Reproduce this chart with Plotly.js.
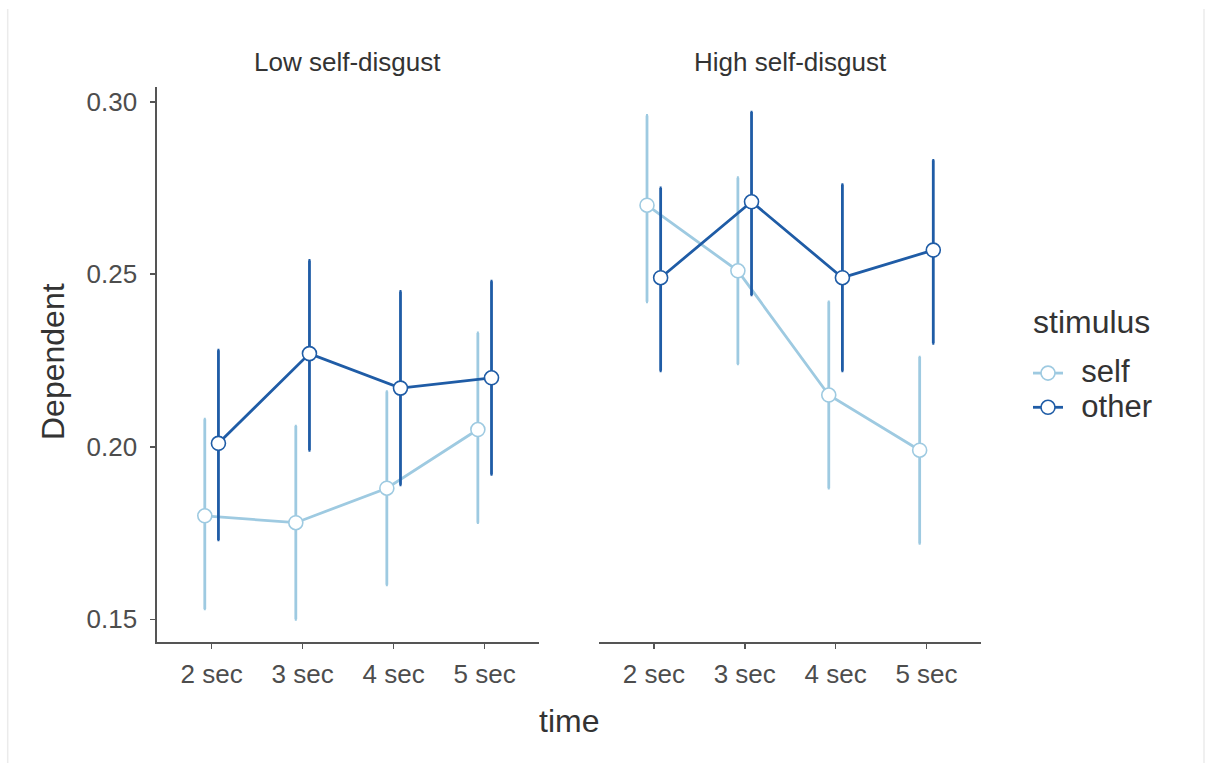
<!DOCTYPE html>
<html>
<head>
<meta charset="utf-8">
<script src="https://cdn.plot.ly/plotly-3.0.1.min.js"></script>
<style>html,body{margin:0;padding:0;background:#fff;}#chart{width:1205px;height:763px;}</style>
</head>
<body>
<div id="chart"></div>
<script>
// ---- data ----
var times = ['2 sec', '3 sec', '4 sec', '5 sec'];
var panels = ['Low self-disgust', 'High self-disgust'];
var stimuli = ['self', 'other'];

var lowSelf      = [0.180, 0.178, 0.188, 0.205];
var lowSelfLo    = [0.153, 0.150, 0.160, 0.178];
var lowSelfHi    = [0.208, 0.206, 0.216, 0.233];
var lowOther     = [0.201, 0.227, 0.217, 0.220];
var lowOtherLo   = [0.173, 0.199, 0.189, 0.192];
var lowOtherHi   = [0.228, 0.254, 0.245, 0.248];
var highSelf     = [0.270, 0.251, 0.215, 0.199];
var highSelfLo   = [0.242, 0.224, 0.188, 0.172];
var highSelfHi   = [0.296, 0.278, 0.242, 0.226];
var highOther    = [0.249, 0.271, 0.249, 0.257];
var highOtherLo  = [0.222, 0.244, 0.222, 0.230];
var highOtherHi  = [0.275, 0.297, 0.276, 0.283];

var yTicks = [0.15, 0.20, 0.25, 0.30];

// ---- style ----
var colSelf = '#9ecae1';
var colOther = '#1f5ca6';
var dodge = 0.075;
var fontFam = 'Liberation Sans, Arial, sans-serif';

function pos(off) { return times.map(function (t, k) { return k + 1 + off; }); }
function diff(a, b) { return a.map(function (v, k) { return +(v - b[k]).toFixed(4); }); }

function mk(name, mean, lo, hi, color, off, xa, ya, showleg) {
  return {
    type: 'scatter', mode: 'lines+markers',
    name: '&nbsp;&nbsp;<span style="font-size:31px">' + name + '</span>',
    x: pos(off), y: mean,
    xaxis: xa, yaxis: ya, showlegend: showleg, legendgroup: name,
    line: {color: color, width: 2.8},
    marker: {symbol: 'circle', size: 14, color: '#ffffff', line: {color: color, width: 1.6}},
    error_y: {type: 'data', symmetric: false, array: diff(hi, mean), arrayminus: diff(mean, lo),
              color: color, thickness: 2.8, width: 1},
    hoverinfo: 'x+y'
  };
}

var data = [
  mk(stimuli[0], lowSelf,  lowSelfLo,  lowSelfHi,  colSelf,  -dodge, 'x',  'y',  true),
  mk(stimuli[0], highSelf, highSelfLo, highSelfHi, colSelf,  -dodge, 'x2', 'y2', false),
  mk(stimuli[1], lowOther, lowOtherLo, lowOtherHi, colOther,  dodge, 'x',  'y',  true),
  mk(stimuli[1], highOther,highOtherLo,highOtherHi,colOther,  dodge, 'x2', 'y2', false)
];

var W = 1205, H = 763;
var yRange = [0.14334, 0.30435];
var axCol = '#555555';
var tickFont = {family: fontFam, size: 26, color: '#4d4d4d'};

function xAx(d, ya) {
  return {domain: d, range: [0.4, 4.6], anchor: ya, showline: true, linecolor: axCol, linewidth: 1.6,
          ticks: 'outside', ticklen: 5, tickwidth: 1.6, tickcolor: axCol, showgrid: false, zeroline: false,
          tickmode: 'array', tickvals: [1, 2, 3, 4], ticktext: times, tickfont: tickFont,
          ticklabelstandoff: 3, fixedrange: true};
}

var layout = {
  width: W, height: H,
  margin: {l: 0, r: 0, t: 0, b: 0, pad: 0},
  paper_bgcolor: '#ffffff', plot_bgcolor: '#ffffff',
  font: {family: fontFam, color: '#333333'},
  showlegend: true,
  xaxis: xAx([157 / W, 539.3 / W], 'y'),
  xaxis2: xAx([599.3 / W, 981 / W], 'y2'),
  yaxis: {domain: [1 - 642.3 / H, 1 - 86.7 / H], range: yRange, anchor: 'x', showline: true, linecolor: axCol,
          linewidth: 1.6, ticks: 'outside', ticklen: 5, tickwidth: 1.6, tickcolor: axCol, showgrid: false,
          zeroline: false, tickmode: 'array', tickvals: yTicks,
          ticktext: yTicks.map(function (v) { return v.toFixed(2); }), tickfont: tickFont,
          ticklabelstandoff: 8, fixedrange: true},
  yaxis2: {domain: [1 - 642.3 / H, 1 - 86.7 / H], range: yRange, anchor: 'x2', visible: false, fixedrange: true},
  legend: {x: 1028 / W, y: 1 - 351 / H, xanchor: 'left', yanchor: 'top', bgcolor: 'rgba(0,0,0,0)',
           font: {family: fontFam, size: 24, color: '#333333'}, itemwidth: 30, tracegroupgap: 0},
  annotations: [
    {text: panels[0], xref: 'paper', yref: 'paper', x: 348 / W, y: 1 - 62 / H, showarrow: false,
     xanchor: 'center', yanchor: 'middle', font: {family: fontFam, size: 26, color: '#333333'}},
    {text: panels[1], xref: 'paper', yref: 'paper', x: 790 / W, y: 1 - 62 / H, showarrow: false,
     xanchor: 'center', yanchor: 'middle', font: {family: fontFam, size: 26, color: '#333333'}},
    {text: 'time', xref: 'paper', yref: 'paper', x: 569 / W, y: 1 - 721 / H, showarrow: false,
     xanchor: 'center', yanchor: 'middle', font: {family: fontFam, size: 32, color: '#333333'}},
    {text: 'Dependent', xref: 'paper', yref: 'paper', x: 53 / W, y: 1 - 362 / H, showarrow: false,
     textangle: -90, xanchor: 'center', yanchor: 'middle', font: {family: fontFam, size: 32, color: '#333333'}},
    {text: 'stimulus', xref: 'paper', yref: 'paper', x: 1031 / W, y: 1 - 322 / H, showarrow: false,
     xanchor: 'left', yanchor: 'middle', font: {family: fontFam, size: 32, color: '#333333'}}
  ],
  shapes: [
    {type: 'line', xref: 'paper', yref: 'paper', x0: 7.7 / W, x1: 7.7 / W, y0: 0, y1: 1 - 9 / H,
     line: {color: '#ebebeb', width: 1.5}},
    {type: 'line', xref: 'paper', yref: 'paper', x0: 1204 / W, x1: 1204 / W, y0: 0, y1: 1 - 9 / H,
     line: {color: '#ebebeb', width: 1.5}}
  ]
};

Plotly.newPlot('chart', data, layout, {displayModeBar: false, staticPlot: true});
</script>
</body>
</html>
